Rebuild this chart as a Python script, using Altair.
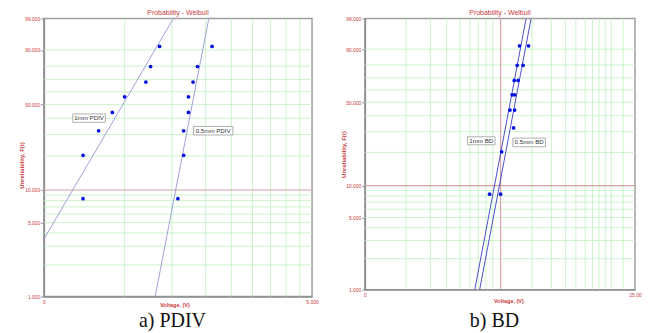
import math
import altair as alt
import pandas as pd

# ---------------- data ----------------
# a) PDIV  (voltage, unreliability %)
pdiv_F = [8.33, 20.24, 32.14, 44.05, 55.95, 67.86, 79.76, 91.67]
pdiv_1mm_V = [0.70, 0.70, 0.80, 0.90, 1.00, 1.20, 1.25, 1.35]
pdiv_05mm_V = [1.58, 1.66, 1.66, 1.73, 1.73, 1.80, 1.87, 2.12]
pdiv_fit_1mm_V = [0.50, 1.52]
pdiv_fit_1mm_F = [3.50, 99.0]
pdiv_fit_05mm_V = [1.30, 2.06]
pdiv_fit_05mm_F = [1.0, 99.0]

# b) BD
bd_1mm_F = [8.33, 20.24, 44.05, 55.95, 67.86, 79.76, 91.67]
bd_1mm_V = [7.24, 8.02, 8.61, 8.77, 8.93, 9.16, 9.34]
bd_05mm_F = [8.33, 32.14, 44.05, 55.95, 67.86, 79.76, 91.67]
bd_05mm_V = [7.95, 8.88, 8.96, 8.96, 9.23, 9.63, 10.09]
bd_fit_1mm_V = [6.38, 9.88]
bd_fit_1mm_F = [1.0, 99.0]
bd_fit_05mm_V = [6.65, 10.31]
bd_fit_05mm_F = [1.0, 99.0]

# grids / ticks
F_ticks = [1, 5, 10, 50, 90, 99]
F_grid = [2, 3, 4, 5, 6, 7, 8, 9, 20, 30, 40, 50, 60, 70, 80, 90]
F_red = [10]
pdiv_V_grid = [1.0, 1.5, 2.0, 2.5, 3.0, 3.5, 4.0, 4.5]
bd_V_grid = [3.55, 4.37, 5.02, 5.62, 6.12, 6.57, 7.02, 7.44, 10.4, 12.26,
             13.8, 15.1, 16.35, 17.4, 18.4, 19.4, 20.4, 22.6]
bd_V_red = [7.95]

RED = "#c83a3a"
GRID = "#bff0bf"
REDLINE = "#d4a0a0"
FONT = "Liberation Sans"


def wt(p):
    return math.log(-math.log(1 - p / 100.0))


W_EXPR = "log(-log(1 - datum.F/100))"


def panel(W, H, xdom, xlab_expr, vgrid, vred, series, fits, linecolor, labels,
          caption, cap_x, cap_y, ytitle_x, ytitle_y, xtitle_x, xtitle_y):
    xs = alt.Scale(type="log", domain=xdom, nice=False)
    ys = alt.Scale(domain=[wt(1), wt(99)], nice=False, zero=False)
    xax = alt.Axis(values=xdom, labelExpr=xlab_expr, grid=False, ticks=False,
                   domainColor="#8c8c8c", domainWidth=1.5, labelColor=RED,
                   labelFont=FONT, labelFontSize=5, labelPadding=3,
                   labelFlush=False, labelOverlap=False,
                   title="Voltage, (V)", titleColor=RED, titleFont=FONT,
                   titleFontSize=5.5, titleFontWeight="bold",
                   titleX=xtitle_x, titleY=xtitle_y)
    yax = alt.Axis(values=[wt(p) for p in F_ticks],
                   labelExpr="format(100*(1-exp(-exp(datum.value))), '.3f')",
                   grid=False, tickSize=3, tickColor="#8c8c8c",
                   domainColor="#8c8c8c", domainWidth=1.5, labelColor=RED,
                   labelFont=FONT, labelFontSize=5, labelPadding=1,
                   labelOverlap=False,
                   title="Unreliability, F(t)", titleColor=RED, titleFont=FONT,
                   titleFontSize=6, titleFontWeight="bold",
                   titleX=ytitle_x, titleY=ytitle_y)
    X = alt.X("V:Q", scale=xs, axis=xax)
    Y = alt.Y("w:Q", scale=ys, axis=yax)

    layers = []
    layers.append(alt.Chart(pd.DataFrame({"V": vgrid})).mark_rule(
        color=GRID, strokeWidth=0.8).encode(x=X))
    layers.append(alt.Chart(pd.DataFrame({"F": F_grid})).transform_calculate(
        w=W_EXPR).mark_rule(color=GRID, strokeWidth=0.8).encode(y=Y))
    layers.append(alt.Chart(pd.DataFrame({"F": F_red})).transform_calculate(
        w=W_EXPR).mark_rule(color=REDLINE, strokeWidth=1.1).encode(y=Y))
    if vred:
        layers.append(alt.Chart(pd.DataFrame({"V": vred})).mark_rule(
            color=REDLINE, strokeWidth=1.1).encode(x=X))
    for fv, ff in fits:
        layers.append(alt.Chart(pd.DataFrame({"V": fv, "F": ff})).transform_calculate(
            w=W_EXPR).mark_line(color=linecolor, strokeWidth=0.9, clip=True).encode(x=X, y=Y))
    for sv, sf in series:
        layers.append(alt.Chart(pd.DataFrame({"V": sv, "F": sf})).transform_calculate(
            w=W_EXPR).mark_circle(color="#0010e0", opacity=1, size=14).encode(x=X, y=Y))
    for text, lv, lf, hw, hh in labels:
        df = pd.DataFrame({"V": [lv], "F": [lf], "t": [text]})
        r = hh / hw
        path = f"M-1,-{r:.3f}H1V{r:.3f}H-1Z"
        layers.append(alt.Chart(df).transform_calculate(w=W_EXPR).mark_point(
            shape=path, size=(2 * hw) ** 2, filled=True, fill="white",
            stroke="#9a9a9a", strokeWidth=0.8, opacity=1).encode(x=X, y=Y))
        layers.append(alt.Chart(df).transform_calculate(w=W_EXPR).mark_text(
            font=FONT, fontSize=6.2, color="#333333").encode(x=X, y=Y, text="t:N"))
    layers.append(alt.Chart(pd.DataFrame({"t": [caption]})).mark_text(
        font="Liberation Serif", fontSize=20, color="#111111",
        baseline="alphabetic").encode(
        x=alt.value(cap_x), y=alt.value(cap_y), text="t:N"))

    return alt.layer(*layers).properties(
        width=W, height=H,
        title=alt.TitleParams("Probability - Weibull", font=FONT, fontSize=7,
                              fontWeight="normal", color=RED, offset=0,
                              anchor="middle"))


WA, HA = 269, 279
WB, HB = 271, 272

pa = panel(WA, HA, [0.5, 5.0], "datum.value < 1 ? '0' : '5.000'",
           pdiv_V_grid, None,
           [(pdiv_1mm_V, pdiv_F), (pdiv_05mm_V, pdiv_F)],
           [(pdiv_fit_1mm_V, pdiv_fit_1mm_F), (pdiv_fit_05mm_V, pdiv_fit_05mm_F)],
           "#9696d6",
           [("1mm PDIV", 0.737, 40.1, 16.3, 4.2), ("0.5mm PDIV", 2.139, 32.2, 19.8, 4.3)],
           "a) PDIV", 129, HA + 30, -19.7, 147, 131, 5.5)

pb = panel(WB, HB, [2.5, 25.0], "datum.value < 3 ? '0' : '25.00'",
           bd_V_grid, bd_V_red,
           [(bd_1mm_V, bd_1mm_F), (bd_05mm_V, bd_05mm_F)],
           [(bd_fit_1mm_V, bd_fit_1mm_F), (bd_fit_05mm_V, bd_fit_05mm_F)],
           "#3a3ac4",
           [("1mm BD", 6.74, 25.2, 13.85, 4.0), ("0.5mm BD", 10.14, 24.4, 16.35, 4.35)],
           "b) BD", 130, HB + 37, -18.6, HB / 2, 144, 9)

chart = alt.hconcat(pa, pb, spacing=53, bounds="flush").properties(
    padding={"left": 9, "top": 0, "right": 0, "bottom": 0}
).configure_view(stroke="#a0a0a0", strokeWidth=1.5)

chart.save("out.html", embed_options={"renderer": "svg", "actions": False})
